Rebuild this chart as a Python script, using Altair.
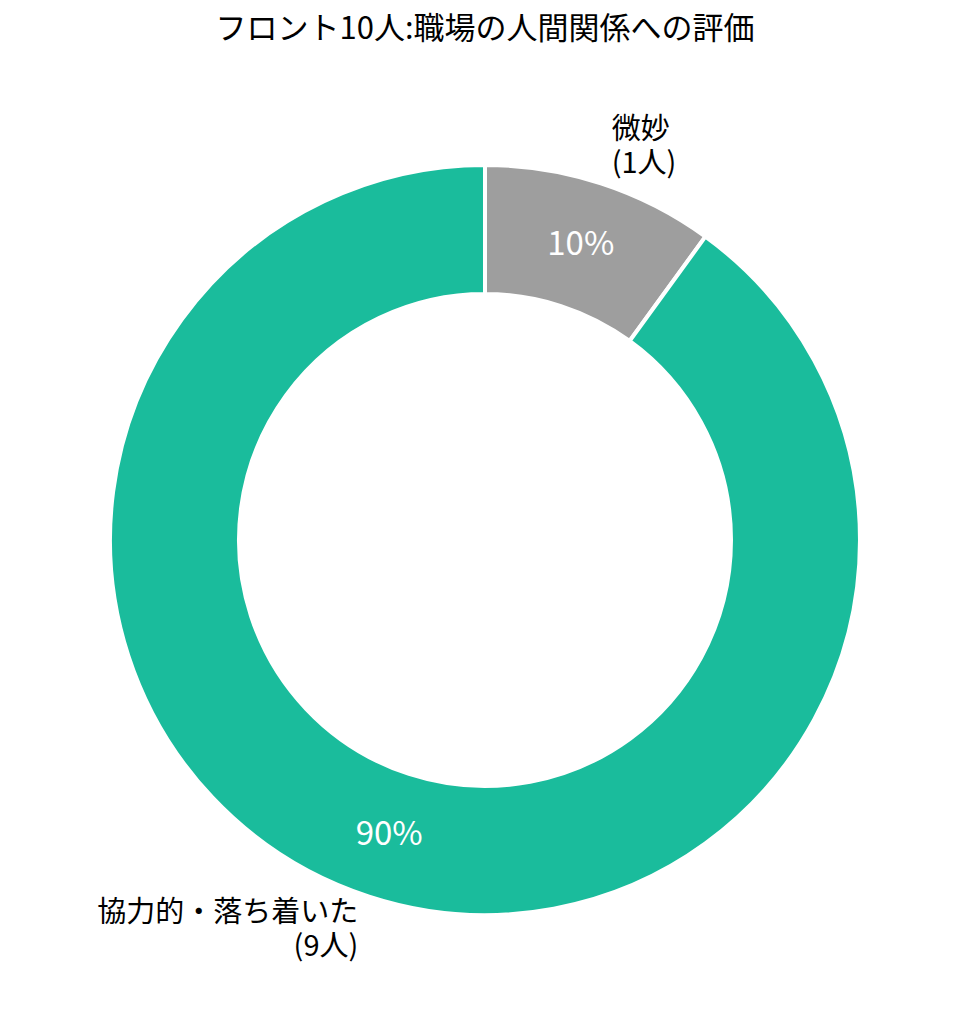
import altair as alt
import pandas as pd

categories = ["微妙", "協力的・落ち着いた"]
counts = [1, 9]
people = ["(1人)", "(9人)"]
colors = ["#9E9E9E", "#1ABC9C"]

df = pd.DataFrame({
    "idx": list(range(len(categories))),
    "category": categories,
    "count": counts,
    "people": people,
})

FONT = "Noto Sans CJK JP"
CX = 477
CY = 484
OUTER = 375
INNER = 246
LH = 34

base = alt.Chart(df).transform_joinaggregate(
    total="sum(count)"
).transform_window(
    cum="sum(count)", sort=[alt.SortField("idx")], frame=[None, 0]
).transform_calculate(
    mid="datum.cum - datum.count / 2",
    pct="round(datum.count / datum.total * 100) + '%'",
    label="datum.category + '\\n' + datum.people",
)

arcs = alt.Chart(df).mark_arc(
    innerRadius=INNER, outerRadius=OUTER, stroke="white", strokeWidth=4
).encode(
    theta=alt.Theta("count:Q", stack=True),
    order=alt.Order("idx:Q"),
    color=alt.Color("category:N", scale=alt.Scale(domain=categories, range=colors), legend=None),
    x=alt.value(CX),
    y=alt.value(CY),
)

theta_mid = alt.Theta("mid:Q", scale=alt.Scale(domain=[0, 10]), stack=None)

pct_text = base.mark_text(
    font=FONT, fontSize=33, color="white", align="center", baseline="middle"
).encode(
    theta=theta_mid,
    radius=alt.value(310),
    text="pct:N",
    x=alt.value(CX),
    y=alt.value(CY),
)

lab_right = base.transform_filter("datum.idx == 0").mark_text(
    font=FONT, fontSize=29, color="black", align="left", baseline="middle",
    lineBreak="\n", lineHeight=LH, dy=-LH / 2 - 3
).encode(
    theta=theta_mid,
    radius=alt.value(410),
    text="label:N",
    x=alt.value(CX),
    y=alt.value(CY),
)

lab_left = base.transform_filter("datum.idx == 1").mark_text(
    font=FONT, fontSize=29, color="black", align="right", baseline="middle",
    lineBreak="\n", lineHeight=LH, dy=-LH / 2
).encode(
    theta=theta_mid,
    radius=alt.value(410),
    text="label:N",
    x=alt.value(CX),
    y=alt.value(CY),
)

chart = alt.layer(arcs, pct_text, lab_right, lab_left).resolve_scale(
    theta="independent"
).properties(
    width=954,
    height=950,
    padding={"top": 6, "left": 0, "right": 0, "bottom": 0},
    title=alt.Title(
        "フロント10人:職場の人間関係への評価",
        font=FONT, fontSize=31, fontWeight="normal", color="black",
        anchor="middle", offset=10,
    ),
).configure_view(stroke=None)

chart.save("out.html", embed_options={"renderer": "svg", "actions": False})
